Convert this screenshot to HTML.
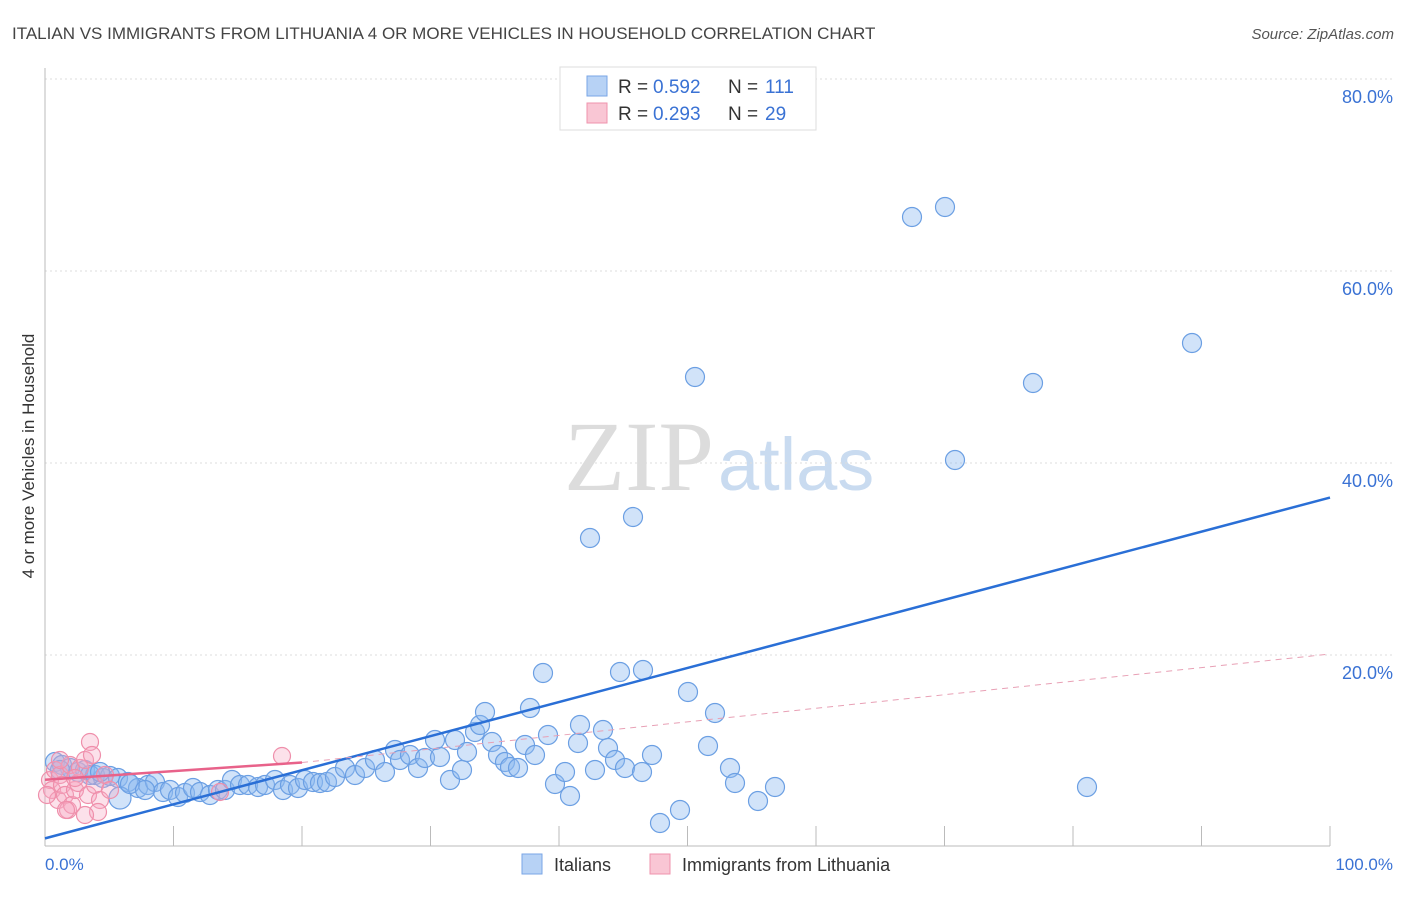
<!DOCTYPE html>
<html><head><meta charset="utf-8">
<style>
body{margin:0;background:#fff;font-family:"Liberation Sans",sans-serif;}
</style></head>
<body>
<svg width="1406" height="892" font-family="Liberation Sans, sans-serif">
<text x="12" y="39" font-size="17" fill="#444">ITALIAN VS IMMIGRANTS FROM LITHUANIA 4 OR MORE VEHICLES IN HOUSEHOLD CORRELATION CHART</text>
<text x="1394" y="39" font-size="15" fill="#555" font-style="italic" text-anchor="end">Source: ZipAtlas.com</text>
<text x="714" y="490" font-size="100" fill="#dcdcdc" style="font-family:'Liberation Serif',serif" text-anchor="end">ZIP</text>
<text x="718" y="490" font-size="74" fill="#c9dbf0">atlas</text>
<g id="grid"></g>
<line x1="45" y1="68" x2="45" y2="846" stroke="#bbb"/>
<line x1="45" y1="846" x2="1330" y2="846" stroke="#bbb"/>
<text transform="translate(34,456) rotate(-90)" font-size="17" fill="#333" text-anchor="middle">4 or more Vehicles in Household</text>
<text x="45" y="870" font-size="17" fill="#3a72d4">0.0%</text>
<text x="1393" y="870" font-size="17" fill="#3a72d4" text-anchor="end">100.0%</text>
<g id="pts"></g>
<g id="lines"></g>
<g>
<rect x="560" y="67" width="256" height="63" fill="#fff" stroke="#ddd"/>
<rect x="587" y="76" width="20" height="20" fill="#b7d2f5" stroke="#7aa6e6"/>
<rect x="587" y="103" width="20" height="20" fill="#f9c6d4" stroke="#ef93ad"/>
<text x="618" y="93" font-size="19" fill="#333">R =</text>
<text x="653" y="93" font-size="19" fill="#3a72d4">0.592</text>
<text x="728" y="93" font-size="19" fill="#333">N =</text>
<text x="765" y="93" font-size="19" fill="#3a72d4">111</text>
<text x="618" y="120" font-size="19" fill="#333">R =</text>
<text x="653" y="120" font-size="19" fill="#3a72d4">0.293</text>
<text x="728" y="120" font-size="19" fill="#333">N =</text>
<text x="765" y="120" font-size="19" fill="#3a72d4">29</text>
</g>
<g>
<rect x="522" y="854" width="20" height="20" fill="#b7d2f5" stroke="#7aa6e6"/>
<text x="554" y="871" font-size="18" fill="#333">Italians</text>
<rect x="650" y="854" width="20" height="20" fill="#f9c6d4" stroke="#ef93ad"/>
<text x="682" y="871" font-size="18" fill="#333">Immigrants from Lithuania</text>
</g>
</svg>
<script>
const yTicks=[20,40,60,80];
const xTicks=[10,20,30,40,50,60,70,80,90,100];
const bluePx=[[55,762],[62,765],[70,768],[78,772],[85,770],[95,775],[103,778],[110,776],[118,778],[128,782],[138,788],[148,785],[155,782],[163,792],[170,790],[178,797],[185,793],[193,788],[200,792],[210,795],[218,790],[225,790],[232,780],[240,785],[248,785],[258,787],[265,785],[275,780],[283,790],[290,785],[298,788],[305,780],[313,782],[320,783],[327,782],[335,777],[345,768],[355,775],[365,768],[375,760],[385,772],[395,750],[400,760],[410,755],[418,768],[425,758],[435,740],[440,757],[450,780],[455,740],[462,770],[467,752],[475,732],[480,725],[485,712],[492,742],[498,755],[505,762],[510,767],[518,768],[525,745],[530,708],[535,755],[543,673],[548,735],[555,784],[565,772],[570,796],[578,743],[580,725],[590,538],[595,770],[603,730],[608,748],[615,760],[620,672],[625,768],[633,517],[642,772],[643,670],[652,755],[660,823],[680,810],[688,692],[695,377],[708,746],[715,713],[730,768],[735,783],[758,801],[775,787],[912,217],[945,207],[955,460],[1033,383],[1087,787],[1192,343],[120,798],[60,770],[90,775],[100,772],[130,784],[145,790]];
const pinkPx=[[50,780],[52,790],[55,770],[58,800],[60,775],[62,785],[65,795],[68,810],[70,765],[72,805],[75,790],[78,783],[80,768],[85,760],[88,795],[90,742],[92,755],[95,785],[100,800],[105,775],[98,812],[85,815],[282,756],[220,792],[60,760],[47,795],[66,810],[75,778],[110,790]];
const italX=bluePx.map(p=>(p[0]-45)/12.85), italY=bluePx.map(p=>(847-p[1])/9.6);
const lithX=pinkPx.map(p=>(p[0]-45)/12.85), lithY=pinkPx.map(p=>(847-p[1])/9.6);
const blueLine=[0,0.9,100,36.4];
const pinkLine=[0,7.0,20,8.8,100,20.1];
const X=v=>45+v*12.85, Y=v=>847-v*9.6;
const NS='http://www.w3.org/2000/svg';
const grid=document.getElementById('grid'), pts=document.getElementById('pts'), lines=document.getElementById('lines');
function mk(tag,at,par){const e=document.createElementNS(NS,tag);for(const k in at)e.setAttribute(k,at[k]);par.appendChild(e);return e;}
yTicks.forEach(t=>{
 const l=mk('line',{x1:45,x2:1393,y1:Y(t),y2:Y(t),stroke:'#ddd','stroke-dasharray':'2,3'},grid);
 
 
 const tx=mk('text',{x:1393,y:Y(t)+24,'font-size':18,fill:'#3a72d4','text-anchor':'end'},grid);
 tx.textContent=t.toFixed(1)+'%';
 
 
});
xTicks.forEach(t=>{
 const l=mk('line',{x1:X(t),x2:X(t),y1:826,y2:846,stroke:'#bbb'},grid);
 
 
});
italX.forEach((x,i)=>{
 const c=mk('circle',{cx:X(x),cy:Y(italY[i]),r:(i===bluePx.length-6?11:9.5),fill:'rgba(140,185,240,0.4)',stroke:'#6b9fe3','stroke-width':1.2},pts);
 
 
});
lithX.forEach((x,i)=>{
 const c=mk('circle',{cx:X(x),cy:Y(lithY[i]),r:8.5,fill:'rgba(245,170,195,0.35)',stroke:'#ef8fab','stroke-width':1.2},pts);
 
 
});
const bl=mk('line',{x1:X(blueLine[0]),y1:Y(blueLine[1]),x2:X(blueLine[2]),y2:Y(blueLine[3]),stroke:'#2a6fd6','stroke-width':2.5},lines);


const pl=mk('line',{x1:X(pinkLine[0]),y1:Y(pinkLine[1]),x2:X(pinkLine[2]),y2:Y(pinkLine[3]),stroke:'#e8628a','stroke-width':2.5},lines);


const pd=mk('line',{x1:X(pinkLine[2]),y1:Y(pinkLine[3]),x2:X(pinkLine[4]),y2:Y(pinkLine[5]),stroke:'#e8a0b5','stroke-width':1,'stroke-dasharray':'6,5'},lines);


</script>
</body></html>
